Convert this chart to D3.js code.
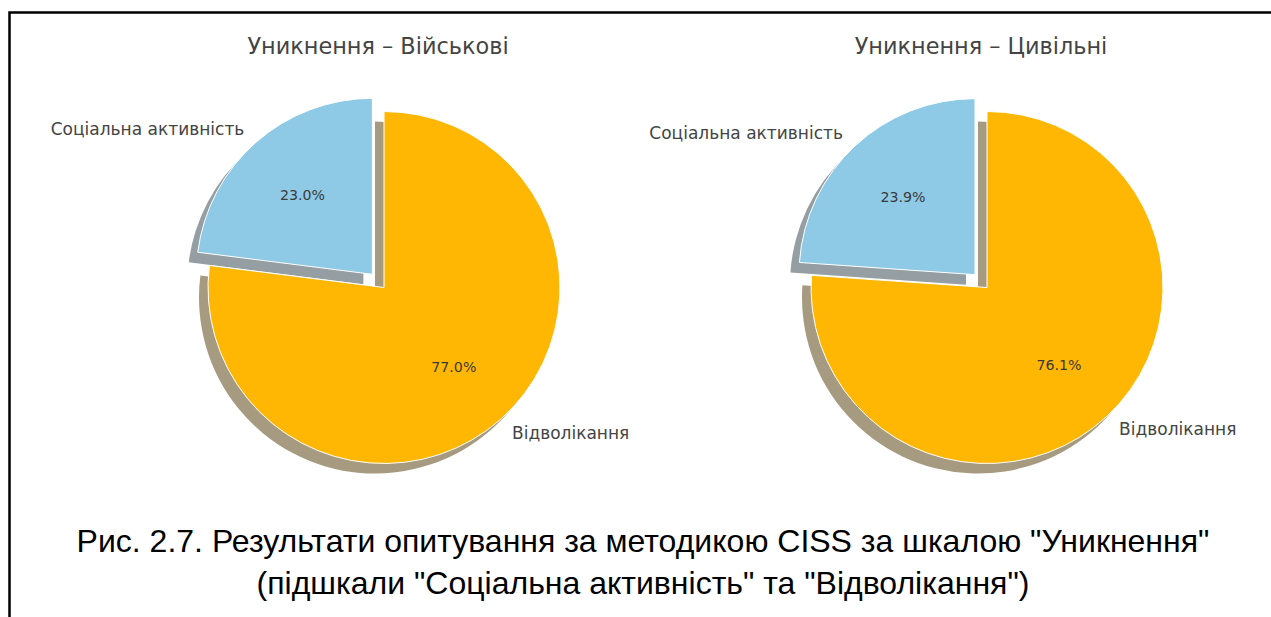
<!DOCTYPE html>
<html>
<head>
<meta charset="utf-8">
<script src="https://cdn.jsdelivr.net/npm/d3@7"></script>
<style>
  body { margin: 0; background: #fff; }
  svg { display: block; }
</style>
</head>
<body>
<svg width="1271" height="617"></svg>
<script>
// chart data
var categories = ["Відволікання", "Соціальна активність"];
var titles = ["Уникнення – Військові", "Уникнення – Цивільні"];
var military = [77.0, 23.0];
var civilian = [76.1, 23.9];
var explode = [0, 0.1];
var colors = ["#ffb703", "#8ecae6"];
var caption = [
  "Рис. 2.7. Результати опитування за методикою CISS за шкалою \"Уникнення\"",
  "(підшкали \"Соціальна активність\" та \"Відволікання\")"
];

var svg = d3.select("svg"),
    width = +svg.attr("width"),
    height = +svg.attr("height");

svg.append("rect").attr("width", width).attr("height", height).attr("fill", "#fff");

// document frame (top + left edges)
svg.append("path")
    .attr("d", "M9.5,617V12.5H1271")
    .attr("fill", "none")
    .attr("stroke", "#000")
    .attr("stroke-width", 2.5);

var radius = 176;
var centers = [[384, 287.5], [987, 287.5]];

var pie = d3.pie().sort(null).value(function(d) { return d; });
var arc = d3.arc().innerRadius(0).outerRadius(radius);

// matplotlib-like shadow: 0.3 * face colour at 50% alpha over white
function blend(c) {
  var rgb = d3.rgb(c);
  return d3.rgb(0.15 * rgb.r + 127.5, 0.15 * rgb.g + 127.5, 0.15 * rgb.b + 127.5).formatHex();
}

function offset(d, k) {
  var a = (d.startAngle + d.endAngle) / 2;
  return [Math.sin(a) * k, -Math.cos(a) * k];
}

[military, civilian].forEach(function(values, i) {
  var arcs = pie(values);
  var g = svg.append("g")
      .attr("transform", "translate(" + centers[i][0] + "," + centers[i][1] + ")");

  g.append("text")
      .attr("x", -6)
      .attr("y", -233.5)
      .attr("text-anchor", "middle")
      .attr("font-family", "DejaVu Sans")
      .attr("font-size", 22.4)
      .attr("fill", "#444")
      .text(titles[i]);

  // shadows first
  g.selectAll(".shadow")
    .data(arcs).enter().append("path")
      .attr("class", "shadow")
      .attr("transform", function(d, j) {
        var o = offset(d, explode[j] * radius);
        return "translate(" + (o[0] - 9) + "," + (o[1] + 10) + ")";
      })
      .attr("d", arc)
      .attr("fill", function(d, j) { return blend(colors[j]); });

  g.selectAll(".wedge")
    .data(arcs).enter().append("path")
      .attr("class", "wedge")
      .attr("transform", function(d, j) {
        var o = offset(d, explode[j] * radius);
        return "translate(" + o[0] + "," + o[1] + ")";
      })
      .attr("d", arc)
      .attr("fill", function(d, j) { return colors[j]; })
      .attr("stroke", "#fff")
      .attr("stroke-width", 1);

  // percentages
  g.selectAll(".pct")
    .data(arcs).enter().append("text")
      .attr("class", "pct")
      .attr("transform", function(d, j) {
        var o = offset(d, explode[j] * radius), p = offset(d, 0.6 * radius);
        return "translate(" + (o[0] + p[0]) + "," + (o[1] + p[1]) + ")";
      })
      .attr("text-anchor", "middle")
      .attr("dy", "0.35em")
      .attr("font-family", "DejaVu Sans")
      .attr("font-size", 14.2)
      .attr("fill", "#3a3a3a")
      .text(function(d) { return d3.format(".1f")(d.data) + "%"; });

  // category labels
  g.selectAll(".lbl")
    .data(arcs).enter().append("text")
      .attr("class", "lbl")
      .attr("transform", function(d, j) {
        var o = offset(d, explode[j] * radius), p = offset(d, 1.1 * radius);
        return "translate(" + (o[0] + p[0]) + "," + (o[1] + p[1]) + ")";
      })
      .attr("text-anchor", function(d) {
        return offset(d, 1)[0] < 0 ? "end" : "start";
      })
      .attr("dy", "0.35em")
      .attr("font-family", "DejaVu Sans")
      .attr("font-size", 17)
      .attr("fill", "#444")
      .text(function(d, j) { return categories[j]; });
});

svg.selectAll(".caption")
  .data(caption).enter().append("text")
    .attr("class", "caption")
    .attr("x", 643)
    .attr("y", function(d, i) { return 552 + i * 42; })
    .attr("text-anchor", "middle")
    .attr("font-family", "Liberation Sans, Arial")
    .attr("font-size", 32)
    .attr("fill", "#000")
    .text(function(d) { return d; });
</script>
</body>
</html>
